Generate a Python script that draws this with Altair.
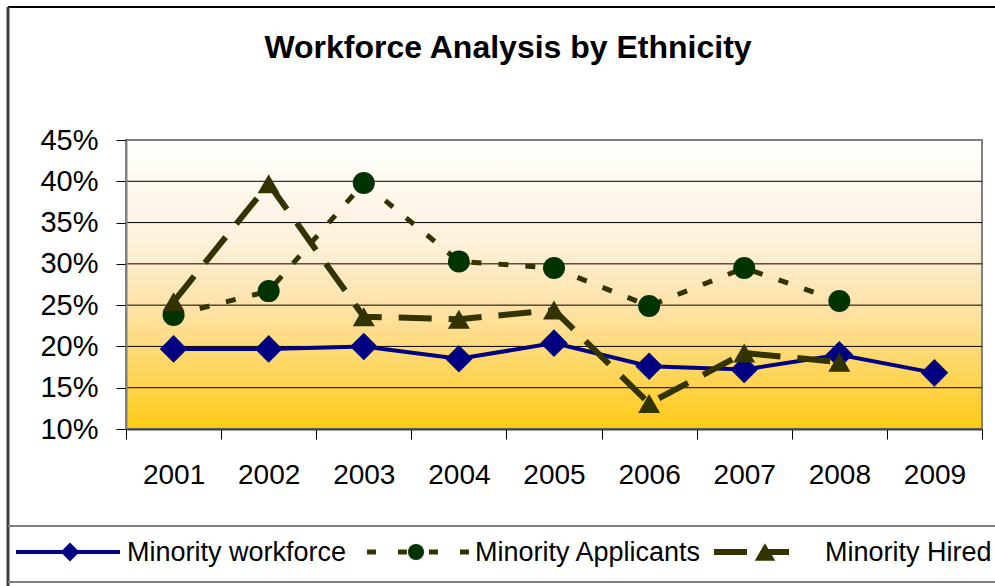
import altair as alt
import pandas as pd

# ---------------- data ----------------
years = [2001, 2002, 2003, 2004, 2005, 2006, 2007, 2008, 2009]
workforce = [0.197, 0.197, 0.200, 0.185, 0.204, 0.176, 0.172, 0.190, 0.168]
applicants = [0.238, 0.267, 0.398, 0.303, 0.295, 0.249, 0.295, 0.255, None]
hired = [0.254, 0.397, 0.236, 0.233, 0.244, 0.131, 0.192, 0.181, None]
series_names = ["Minority workforce", "Minority Applicants", "Minority Hired"]
y_ticks = [0.10, 0.15, 0.20, 0.25, 0.30, 0.35, 0.40, 0.45]
x_bounds = [y - 0.5 for y in years] + [years[-1] + 0.5]
title_text = "Workforce Analysis by Ethnicity"

FONT = "Liberation Sans"
W, H = 856, 289


def frame(vals):
    d = pd.DataFrame({"year": years, "value": vals})
    return d.dropna()


df_w = frame(workforce)
df_a = frame(applicants)
df_h = frame(hired)
df_grid = pd.DataFrame({"value": [t for t in y_ticks if 0.10 < t < 0.45]})
one = pd.DataFrame({"k": [0]})

x_scale = alt.Scale(domain=[x_bounds[0], x_bounds[-1]], nice=False, zero=False)
y_scale = alt.Scale(domain=[y_ticks[0], y_ticks[-1]], nice=False, zero=False)

x_axis = alt.Axis(
    values=x_bounds,
    labelExpr="datum.value > 2009 ? '' : format(datum.value + 0.5, 'd')",
    labelOffset=W / 18,
    labelFlush=False,
    labelFont=FONT, labelFontSize=28, labelColor="#000000",
    labelBaseline="alphabetic", labelPadding=44,
    tickSize=10, tickColor="#000000", tickWidth=1,
    domainColor="#404040", domainWidth=2,
    grid=False, title=None, zindex=1,
)
y_axis = alt.Axis(
    values=y_ticks, format=".0%",
    labelFont=FONT, labelFontSize=29, labelColor="#000000",
    labelPadding=18, labelBaseline="middle",
    tickSize=10, tickColor="#000000", tickWidth=1,
    domainColor="#808080", domainWidth=2,
    grid=False, title=None, zindex=1,
)

X = alt.X("year:Q", scale=x_scale, axis=x_axis)
Y = alt.Y("value:Q", scale=y_scale, axis=y_axis)

# background gradient of the plot area
bg = alt.Chart(one).mark_rect(
    fill=alt.Gradient(
        gradient="linear", x1=0, y1=0, x2=0, y2=1,
        stops=[
            alt.GradientStop(offset=0, color="#FFFFFF"),
            alt.GradientStop(offset=0.35, color="#FEF1DC"),
            alt.GradientStop(offset=0.6, color="#FDE1A2"),
            alt.GradientStop(offset=0.85, color="#FDD34C"),
            alt.GradientStop(offset=1, color="#FFCB12"),
        ],
    ),
    stroke="#808080", strokeWidth=2,
).encode(
    x=alt.X(datum=x_bounds[0], type="quantitative", scale=x_scale, axis=x_axis),
    x2=alt.datum(x_bounds[-1]),
    y=alt.Y(datum=y_ticks[0], type="quantitative", scale=y_scale, axis=y_axis),
    y2=alt.datum(y_ticks[-1]),
)

grid = alt.Chart(df_grid).mark_rule(color="#000000", strokeWidth=1).encode(
    y=Y,
    x=alt.X(datum=x_bounds[0], type="quantitative", scale=x_scale, axis=x_axis),
    x2=alt.datum(x_bounds[-1]),
)

# series
w_line = alt.Chart(df_w).mark_line(color="#000080", strokeWidth=4).encode(x=X, y=Y)
w_pts = alt.Chart(df_w).mark_point(shape="diamond", filled=True, size=760,
                                   color="#000080", opacity=1).encode(x=X, y=Y)

a_line = alt.Chart(df_a).mark_line(color="#333300", strokeWidth=5,
                                   strokeDash=[10, 17]).encode(x=X, y=Y)
a_pts = alt.Chart(df_a).mark_point(shape="circle", filled=True, size=484,
                                   color="#003300", opacity=1).encode(x=X, y=Y)

h_line = alt.Chart(df_h).mark_line(color="#333300", strokeWidth=6,
                                   strokeDash=[33, 17]).encode(x=X, y=Y)
h_pts = alt.Chart(df_h).mark_point(shape="triangle-up", filled=True, size=484,
                                   color="#333300", opacity=1).encode(x=X, y=Y)

# title
title = alt.Chart(one).mark_text(
    text=title_text, font=FONT, fontSize=32, fontWeight="bold",
    align="center", baseline="alphabetic", color="#000000",
).encode(x=alt.value(382), y=alt.value(-82))

# frame lines of the chart area and legend box
def hrule(y, x1, x2, color, width):
    return alt.Chart(one).mark_rule(color=color, strokeWidth=width).encode(
        x=alt.value(x1), x2=alt.value(x2), y=alt.value(y))


def vrule(x, y1, y2, color, width):
    return alt.Chart(one).mark_rule(color=color, strokeWidth=width).encode(
        x=alt.value(x), y=alt.value(y1), y2=alt.value(y2))


frames = [
    hrule(-133, -118, 869, "#000000", 2),
    vrule(-118, -133, 446, "#404040", 3),
    hrule(386, -118, 869, "#808080", 2),
    hrule(442, -118, 869, "#808080", 2),
]

# legend
LY = 412
leg = []
leg.append(alt.Chart(one).mark_rule(color="#000080", strokeWidth=4).encode(
    x=alt.value(-110), x2=alt.value(-6), y=alt.value(LY)))
leg.append(alt.Chart(one).mark_point(shape="diamond", filled=True, size=360,
                                     color="#000080", opacity=1).encode(
    x=alt.value(-56), y=alt.value(LY)))
leg.append(alt.Chart(one).mark_rule(color="#333300", strokeWidth=5, strokeDash=[9, 22]).encode(
    x=alt.value(241), x2=alt.value(344), y=alt.value(LY)))
leg.append(alt.Chart(one).mark_point(shape="circle", filled=True, size=260,
                                     color="#003300", opacity=1).encode(
    x=alt.value(290), y=alt.value(LY)))
leg.append(alt.Chart(one).mark_rule(color="#333300", strokeWidth=6, strokeDash=[33, 17]).encode(
    x=alt.value(588), x2=alt.value(663), y=alt.value(LY)))
leg.append(alt.Chart(one).mark_point(shape="triangle-up", filled=True, size=420,
                                     color="#333300", opacity=1).encode(
    x=alt.value(639), y=alt.value(LY)))
for name, lx in zip(series_names, [1, 349, 699]):
    leg.append(alt.Chart(one).mark_text(
        text=name, font=FONT, fontSize=27, align="left", baseline="alphabetic",
        color="#000000").encode(x=alt.value(lx), y=alt.value(421)))

chart = alt.layer(
    bg, grid, w_line, w_pts, a_line, a_pts, h_line, h_pts, title, *frames, *leg
).properties(
    width=W, height=H,
    autosize=alt.AutoSizeParams(type="none"),
    padding={"left": 126, "top": 140, "right": 13, "bottom": 157},
).configure(background="#FFFFFF").configure_view(stroke=None)

chart.save("out.html", embed_options={"renderer": "svg", "actions": False})
